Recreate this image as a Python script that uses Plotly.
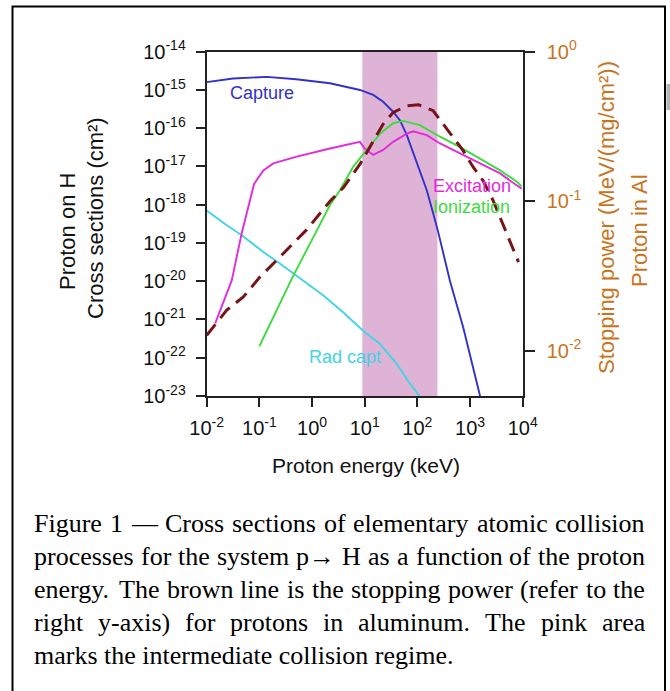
import plotly.graph_objects as go

W, H = 670, 691

# ---- data -------------------------------------------------------------
# proton energy in keV, cross sections in cm^2
capture_e = [0.01, 0.0316, 0.138, 0.5, 2.19, 8.13, 14.5, 22.4, 34.7, 46.8, 63.1,
             97.7, 151, 200, 245, 417, 741, 1550]
capture_sigma = [1.6e-15, 2.0e-15, 2.2e-15, 1.9e-15, 1.5e-15, 1.0e-15, 7.4e-16,
                 4.9e-16, 2.7e-16, 1.6e-16, 6.6e-17, 1.2e-17, 2.4e-18, 5.9e-19,
                 2.1e-19, 1.0e-20, 6.3e-22, 1.0e-23]

excitation_e = [0.0145, 0.0299, 0.0462, 0.0794, 0.119, 0.184, 0.513, 2.19, 8.13,
                10.0, 14.5, 22.4, 34.7, 63.1, 83.2, 151, 269, 646, 1550, 3720, 9550]
excitation_sigma = [7.9e-22, 1.05e-20, 1.8e-19, 3.5e-18, 7.9e-18, 1.2e-17, 1.8e-17,
                    2.95e-17, 4.4e-17, 2.95e-17, 2.0e-17, 2.7e-17, 4.4e-17, 7.2e-17,
                    8.3e-17, 6.6e-17, 4.0e-17, 2.2e-17, 1.2e-17, 6.6e-18, 2.6e-18]

ionization_e = [0.1, 0.441, 1.23, 2.19, 3.39, 6.03, 11.0, 19.5, 34.7, 53.7, 112,
                269, 646, 1550, 3720, 7760, 9550]
ionization_sigma = [2.0e-22, 1.4e-20, 2.1e-19, 9.8e-19, 2.4e-18, 9.8e-18, 2.7e-17,
                    7.2e-17, 1.35e-16, 1.55e-16, 1.2e-16, 6.0e-17, 3.2e-17, 1.6e-17,
                    7.9e-18, 4.0e-18, 3.0e-18]

radcapt_e = [0.01, 0.024, 0.0462, 0.119, 0.245, 0.682, 1.62, 3.89, 9.33, 19.5,
             40.7, 72.4, 110]
radcapt_sigma = [7.1e-19, 2.9e-19, 1.6e-19, 5.8e-20, 2.9e-20, 1.05e-20, 4.3e-21,
                 1.55e-21, 5.1e-22, 2.3e-22, 6.9e-23, 2.1e-23, 1.0e-23]

# stopping power of protons in Al, MeV/(mg/cm^2)
stopping_e = [0.01, 0.024, 0.0495, 0.102, 0.245, 0.794, 2.19, 3.98, 8.13, 14.5,
              22.4, 34.7, 63.1, 105, 200, 309, 479, 741, 1150, 1780, 2750, 8320]
stopping_power = [0.0127, 0.0187, 0.0229, 0.0311, 0.0424, 0.0646, 0.100, 0.124,
                  0.177, 0.254, 0.328, 0.392, 0.435, 0.442, 0.403, 0.328, 0.267,
                  0.218, 0.169, 0.137, 0.101, 0.0392]

# intermediate collision regime, keV
regime_kev = [9, 240]

x_tick_exp = [-2, -1, 0, 1, 2, 3, 4]
y_tick_exp = [-23, -22, -21, -20, -19, -18, -17, -16, -15, -14]
y2_tick_exp = [-2, -1, 0]

caption_lines = [
    "Figure 1 \u2014 Cross sections of elementary atomic collision",
    "processes for the system p\u2192 H as a function of the proton",
    "energy. The brown line is the stopping power (refer to the",
    "right y-axis) for protons in aluminum. The pink area",
    "marks the intermediate collision regime.",
]

# ---- helpers ----------------------------------------------------------
def fx(px):
    return px / W


def fy(py):
    return 1 - py / H


def pow_label(e):
    return "10<sup>%d</sup>" % e


SANS = "Liberation Sans, Arial, sans-serif"
SERIF = "Liberation Serif, Times New Roman, serif"
ORANGE = "#C8741E"
AXIS = "#222222"
BLUE = "#3232C8"
MAGENTA = "#E22CDC"
GREEN = "#3CDC3C"
CYAN = "#40D4E6"
BROWN = "#781419"

x_range = [-2, 4]
y_range = [-23, -14]
y2_range = [-2.302, 0]

fig = go.Figure()

# pink band of the intermediate regime
fig.add_trace(go.Scatter(
    x=[regime_kev[0], regime_kev[1], regime_kev[1], regime_kev[0], regime_kev[0]],
    y=[10 ** y_range[0], 10 ** y_range[0], 10 ** y_range[1], 10 ** y_range[1], 10 ** y_range[0]],
    fill="toself", fillcolor="#DFB3D6", line=dict(width=0), mode="lines",
    hoverinfo="skip", showlegend=False))

for xs, ys, col in [(radcapt_e, radcapt_sigma, CYAN),
                    (capture_e, capture_sigma, BLUE),
                    (excitation_e, excitation_sigma, MAGENTA),
                    (ionization_e, ionization_sigma, GREEN)]:
    fig.add_trace(go.Scatter(x=xs, y=ys, mode="lines",
                             line=dict(color=col, width=1.9), showlegend=False))

fig.add_trace(go.Scatter(x=stopping_e, y=stopping_power, mode="lines", yaxis="y2",
                         line=dict(color=BROWN, width=3, dash="14px,8px"),
                         showlegend=False))

tickfont = dict(family=SANS, size=20, color="#111111")

fig.update_layout(
    template="none",
    width=W, height=H, autosize=False,
    margin=dict(l=0, r=0, t=0, b=0, pad=0, autoexpand=False),
    paper_bgcolor="white", plot_bgcolor="white",
    showlegend=False,
    xaxis=dict(type="log", range=x_range, domain=[fx(206.7), fx(522.7)],
               tickvals=[10 ** e for e in x_tick_exp],
               ticktext=[pow_label(e) for e in x_tick_exp],
               ticks="outside", ticklen=9, tickwidth=2, tickcolor=AXIS,
               showline=True, linecolor=AXIS, linewidth=2, mirror=True,
               showgrid=False, zeroline=False, tickfont=tickfont,
               ticklabelstandoff=4, automargin=False),
    yaxis=dict(type="log", range=y_range, domain=[fy(396), fy(51.7)],
               tickvals=[10 ** e for e in y_tick_exp],
               ticktext=[pow_label(e) for e in y_tick_exp],
               ticks="outside", ticklen=9, tickwidth=2, tickcolor=AXIS,
               showline=True, linecolor=AXIS, linewidth=2,
               showgrid=False, zeroline=False, tickfont=tickfont,
               ticklabelstandoff=6, automargin=False),
    yaxis2=dict(type="log", range=y2_range, overlaying="y", side="right",
                tickvals=[10 ** e for e in y2_tick_exp],
                ticktext=[pow_label(e) for e in y2_tick_exp],
                ticks="outside", ticklen=10, tickwidth=2, tickcolor=AXIS,
                showline=True, linecolor=AXIS, linewidth=2,
                showgrid=False, zeroline=False,
                tickfont=dict(family=SANS, size=20, color=ORANGE),
                ticklabelstandoff=8, automargin=False),
)

ann = []


def note(text, px, py, size, color, xanchor="center", yanchor="middle",
         angle=0, family=SANS):
    ann.append(dict(text=text, x=fx(px), y=fy(py), xref="paper", yref="paper",
                    xanchor=xanchor, yanchor=yanchor, showarrow=False,
                    textangle=angle, borderpad=0, borderwidth=0,
                    font=dict(family=family, size=size, color=color)))


# curve labels
note("Capture", 262, 93, 18, BLUE)
note("Excitation", 433, 186, 18, MAGENTA, xanchor="left")
note("Ionization", 433, 207, 18, GREEN, xanchor="left")
note("Rad capt", 345, 357, 18, CYAN)

# axis titles
note("Proton energy (keV)", 365.5, 465, 21, "#111111")
note("Proton on H", 67, 232, 22, "#111111", angle=-90)
note("Cross sections (cm\u00b2)", 95, 218, 22, "#111111", angle=-90)
note("Stopping power (MeV/(mg/cm\u00b2))", 606, 218, 22, ORANGE, angle=-90)
note("Proton in Al", 639, 231, 22, ORANGE, angle=-90)

# justified caption set in Times metrics
TIMES_WIDTHS = {
    " ": 250, ".": 250, ",": 250, "(": 333, ")": 333, "-": 333,
    "\u2014": 1000, "\u2192": 1000, "1": 500,
    "a": 444, "b": 500, "c": 444, "d": 500, "e": 444, "f": 333, "g": 500,
    "h": 500, "i": 278, "j": 278, "k": 500, "l": 278, "m": 778, "n": 500,
    "o": 500, "p": 500, "q": 500, "r": 333, "s": 389, "t": 278, "u": 500,
    "v": 500, "w": 722, "x": 500, "y": 500, "z": 444,
    "C": 667, "F": 556, "H": 722, "T": 611,
}
CAP_SIZE = 26
CAP_LEFT, CAP_RIGHT = 34, 645


def text_width(s):
    return sum(TIMES_WIDTHS.get(c, 500) for c in s) / 1000 * CAP_SIZE


for i, line in enumerate(caption_lines):
    yc = 523 + 33 * i
    if i == len(caption_lines) - 1:
        note(line, CAP_LEFT, yc, CAP_SIZE, "#000000", xanchor="left", family=SERIF)
        continue
    words = line.split(" ")
    widths = [text_width(w) for w in words]
    gap = (CAP_RIGHT - CAP_LEFT - sum(widths)) / (len(words) - 1)
    x = CAP_LEFT
    for w, wd in zip(words, widths):
        note(w, x, yc, CAP_SIZE, "#000000", xanchor="left", family=SERIF)
        x += wd + gap

fig.update_layout(annotations=ann)

# page frame around figure and caption
fig.add_shape(type="rect", xref="paper", yref="paper",
              x0=fx(12.5), x1=fx(665), y0=fy(700), y1=fy(6.5),
              line=dict(color="#000000", width=2), fillcolor="rgba(0,0,0,0)")
fig.add_shape(type="rect", xref="paper", yref="paper",
              x0=fx(666.5), x1=fx(671), y0=fy(110), y1=fy(84),
              line=dict(width=0), fillcolor="#B4B4B4")

fig.write_html("out.html")
